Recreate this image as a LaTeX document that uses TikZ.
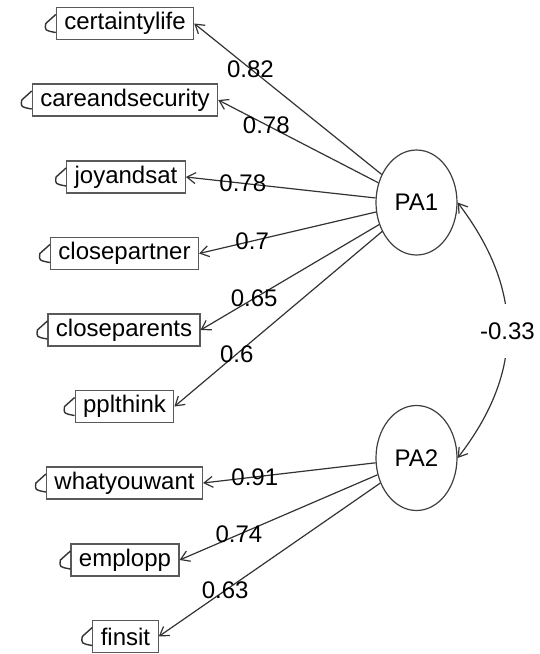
\documentclass[tikz,border=0pt]{standalone}
\usepackage{fontspec}
\setmainfont{Liberation Sans}
\usetikzlibrary{arrows.meta,shapes.geometric}

\tikzset{
  every node/.style={font=\fontsize{12}{14}\selectfont, text=black},
  manifest/.style={draw=black!65, line width=0.55pt, rectangle, inner xsep=4pt,
                   inner ysep=0pt, minimum height=16pt},
  latent/.style={draw=black!75, line width=0.6pt, ellipse, inner sep=0pt,
                 minimum width=40.5pt, minimum height=52.5pt},
  loading/.style={draw=black!80, line width=0.6pt,
                  -{Straight Barb[length=4.3pt,width=5.5pt]}},
  weight/.style={pos=0.7, inner sep=0pt},
  resid/.style={draw=black!80, line width=0.7pt},
}

% draw the small residual glyph to the left of a manifest box
\newcommand{\residual}[1]{%
  \draw[resid] ([shift={(0,-9)}]#1.west) -- ([shift={(-10,0)}]#1.west)
     .. controls ([shift={(-11,7)}]#1.west) .. ([shift={(0,9)}]#1.west);}

\begin{document}
\begin{tikzpicture}[x=0.5pt, y=-0.5pt]
  \useasboundingbox (0,0) rectangle (540,654);

  % latent factors
  \node[latent] (pa1) at (416.5,202.5) {PA1};
  \node[latent] (pa2) at (416.5,458) {PA2};

  % observed variables
  \node[manifest] (v1) at (125,23.5)  {certaintylife};
  \node[manifest] (v2) at (125,100)   {careandsecurity};
  \node[manifest] (v3) at (126,177)   {joyandsat};
  \node[manifest] (v4) at (124.5,253.5) {closepartner};
  \node[manifest] (v5) at (124,330)   {closeparents};
  \node[manifest] (v6) at (124.5,406.5) {pplthink};
  \node[manifest] (v7) at (124.5,483) {whatyouwant};
  \node[manifest] (v8) at (125,560)   {emplopp};
  \node[manifest] (v9) at (125.5,636.5) {finsit};

  \foreach \v in {v1,v2,v3,v4,v5,v6,v7,v8,v9} {\residual{\v}}

  % loadings of PA1
  \draw[loading] (pa1) -- node[weight] {0.82} (v1.east);
  \draw[loading] (pa1) -- node[weight] {0.78} (v2.east);
  \draw[loading] (pa1) -- node[weight] {0.78} (v3.east);
  \draw[loading] (pa1) -- node[weight] {0.7}  (v4.east);
  \draw[loading] (pa1) -- node[weight] {0.65} (v5.east);
  \draw[loading] (pa1) -- node[weight] {0.6}  (v6.east);

  % loadings of PA2
  \draw[loading] (pa2) -- node[weight] {0.91} (v7.east);
  \draw[loading] (pa2) -- node[weight] {0.74} (v8.east);
  \draw[loading] (pa2) -- node[weight] {0.63} (v9.east);

  % factor correlation
  \draw[loading, {Straight Barb[length=4.3pt,width=5.5pt]}-{Straight Barb[length=4.3pt,width=5.5pt]}]
    (pa1.east) .. controls (524,290) and (524,372) .. (pa2.east)
    node[pos=0.5, fill=white, inner sep=0pt, minimum height=27pt, minimum width=30pt] {-0.33};
\end{tikzpicture}
\end{document}
